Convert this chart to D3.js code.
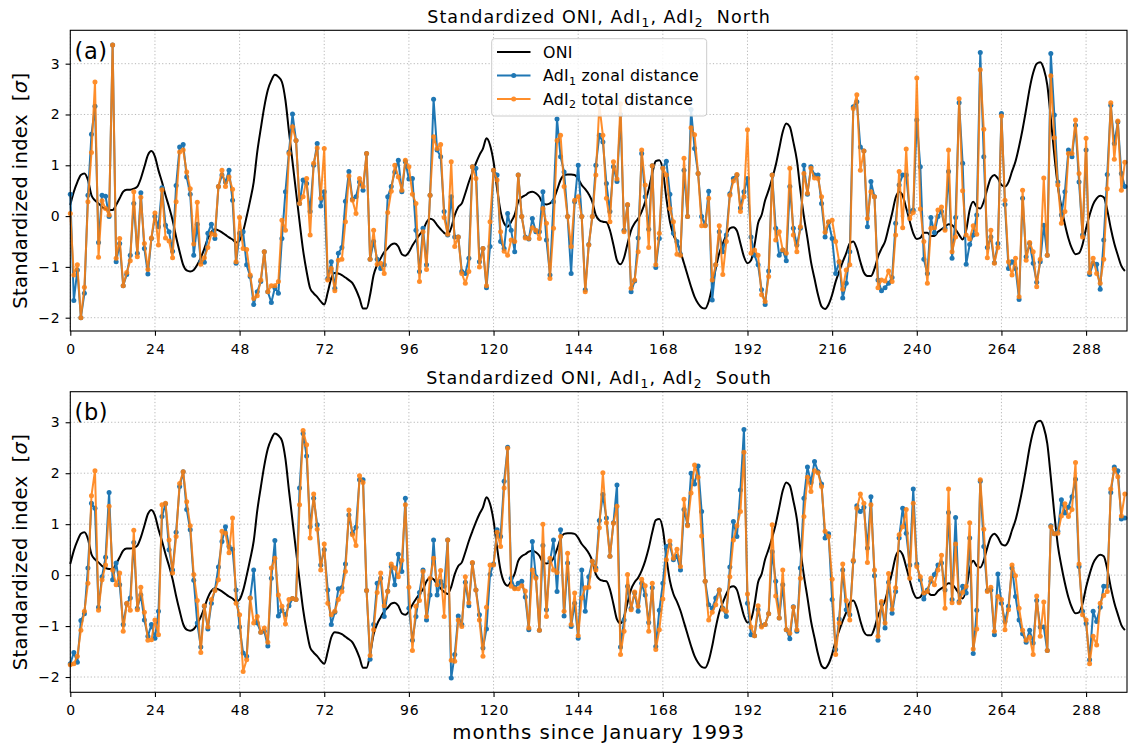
<!DOCTYPE html>
<html>
<head>
<meta charset="utf-8">
<script src="https://cdn.jsdelivr.net/npm/d3@7"></script>
<style>
  body { margin: 0; background: #fff; }
  svg { display: block; font-family: "DejaVu Sans", sans-serif; }
</style>
</head>
<body>
<svg id="chart" width="1129" height="745"></svg>
<script>
// standardized ONI, one value per month since Jan 1993
const oni = [
  0.22,0.48,0.67,0.81,0.84,0.71,0.41,0.31,0.25,0.18,
  0.14,0.12,0.12,0.22,0.35,0.48,0.52,0.52,0.54,0.58,
  0.74,0.97,1.20,1.28,1.17,0.90,0.67,0.41,0.18,-0.08,
  -0.41,-0.70,-0.96,-1.07,-1.09,-1.06,-0.96,-0.82,-0.64,-0.44,
  -0.31,-0.26,-0.28,-0.32,-0.37,-0.42,-0.46,-0.52,-0.48,-0.30,
  -0.01,0.31,0.67,1.26,1.72,2.15,2.48,2.67,2.78,2.74,
  2.64,2.28,1.66,1.07,0.48,-0.11,-0.67,-1.09,-1.42,-1.52,
  -1.59,-1.68,-1.74,-1.50,-1.22,-1.12,-1.13,-1.16,-1.21,-1.26,
  -1.32,-1.45,-1.62,-1.82,-1.82,-1.55,-1.16,-0.96,-0.83,-0.71,
  -0.64,-0.56,-0.54,-0.60,-0.75,-0.78,-0.71,-0.58,-0.47,-0.37,
  -0.28,-0.12,-0.05,-0.08,-0.18,-0.26,-0.33,-0.37,-0.23,0.02,
  0.18,0.25,0.45,0.67,0.86,1.04,1.20,1.33,1.53,1.40,
  1.07,0.54,0.09,-0.14,-0.21,-0.11,0.03,0.28,0.37,0.41,
  0.46,0.48,0.45,0.38,0.25,0.23,0.25,0.33,0.51,0.71,
  0.81,0.82,0.82,0.81,0.73,0.61,0.53,0.43,0.28,0.02,
  -0.08,-0.11,-0.12,-0.28,-0.57,-0.87,-0.95,-0.82,-0.54,-0.28,
  -0.14,-0.05,0.09,0.28,0.53,0.84,1.08,1.10,0.90,0.35,
  -0.11,-0.37,-0.52,-0.70,-0.93,-1.16,-1.39,-1.59,-1.72,-1.80,
  -1.82,-1.68,-1.39,-1.03,-0.73,-0.54,-0.37,-0.24,-0.22,-0.29,
  -0.54,-0.80,-0.93,-0.87,-0.57,-0.14,0.02,0.31,0.51,0.74,
  1.00,1.33,1.66,1.82,1.76,1.46,1.10,0.51,-0.01,-0.44,
  -0.90,-1.23,-1.55,-1.78,-1.83,-1.74,-1.55,-1.29,-1.09,-0.90,
  -0.73,-0.54,-0.50,-0.64,-0.90,-1.11,-1.18,-1.18,-1.04,-0.80,
  -0.64,-0.50,-0.23,0.05,0.36,0.48,0.40,0.16,-0.10,-0.34,
  -0.45,-0.43,-0.33,-0.33,-0.39,-0.39,-0.31,-0.26,-0.21,-0.16,
  -0.18,-0.26,-0.37,-0.46,-0.28,0.12,0.28,0.18,0.15,0.29,
  0.54,0.75,0.81,0.74,0.61,0.58,0.67,0.88,1.08,1.37,
  1.71,2.10,2.51,2.82,3.00,3.03,2.90,2.58,1.92,1.20,
  0.58,0.18,-0.16,-0.44,-0.64,-0.75,-0.73,-0.56,-0.24,0.02,
  0.23,0.35,0.40,0.37,0.12,-0.24,-0.54,-0.77,-0.98,-1.08
];

// North, AdI1 zonal distance
const adi1North = [
  0.43,-1.66,-1.06,-2.0,-1.52,0.41,1.61,2.16,-0.52,0.41,
  0.39,-0.01,3.37,-0.90,-0.54,-1.37,-1.15,-0.77,0.25,-0.73,
  0.46,-0.64,-1.14,-0.44,-0.01,-0.21,0.56,-0.18,-0.31,-0.69,
  0.60,1.36,1.41,0.77,0.43,-0.77,-0.16,-0.90,-0.91,-0.34,
  -0.16,-0.44,0.58,0.81,0.67,0.90,0.31,-0.93,-0.34,-0.31,
  -0.96,-1.19,-1.74,-1.49,-1.29,-0.70,-1.49,-1.70,-1.41,-1.52,
  -0.44,0.48,1.26,2.01,1.49,0.25,0.71,0.64,0.09,1.0,
  1.43,0.20,0.48,-1.23,-0.90,-1.42,-0.73,-0.62,0.29,0.88,
  0.33,0.38,0.67,0.51,1.23,-0.85,-0.50,-0.85,-1.03,-0.96,
  0.38,0.58,0.87,1.10,0.48,1.07,0.73,0.74,-0.28,-1.09,
  -0.24,-0.96,0.41,2.30,1.30,1.17,0.09,-0.37,0.38,-0.41,
  -0.41,-1.09,-1.13,-0.83,0.97,0.94,-0.90,-0.64,-1.41,-0.60,
  0.90,0.81,-0.50,-0.64,0.05,-0.28,-0.70,0.81,-0.01,-0.41,
  -0.45,-0.05,-0.31,-0.31,0.48,-0.47,-1.16,0.28,1.91,1.17,
  0.87,-0.01,-1.13,0.28,1.0,-0.01,-1.45,-0.56,-0.01,1.0,
  1.59,1.46,0.64,0.09,0.97,0.68,2.0,-0.28,0.22,-1.49,
  -1.28,-0.43,1.23,0.38,-0.26,0.99,-1.01,-0.44,0.95,1.08,
  0.43,-0.34,-0.50,-0.75,0.90,-0.01,2.10,1.33,0.84,-0.01,
  -0.18,0.49,-1.65,-0.96,-0.31,-0.70,-0.37,0.44,0.74,0.81,
  0.16,0.48,0.74,-0.41,-0.77,-0.96,-1.45,-1.74,-1.08,0.81,
  -0.24,-0.77,-0.67,-0.88,0.58,-0.24,-0.57,-0.24,1.0,0.43,
  0.97,0.81,0.81,0.25,-0.41,-0.12,-0.44,-1.13,-0.90,-1.61,
  -1.32,-0.70,2.15,2.25,1.36,1.28,-0.21,0.68,0.38,-1.26,
  -1.47,-1.41,-1.32,-1.21,-0.14,0.61,0.81,0.81,0.09,0.12,
  1.89,0.97,-0.85,-1.13,-0.03,-0.33,-0.01,0.09,-0.24,0.88,
  -0.83,-0.03,2.23,1.04,-0.95,-0.56,-0.37,0.02,3.22,1.17,
  -0.62,-0.41,-0.92,-0.54,2.02,0.23,-1.03,-0.90,-1.03,-1.64,
  0.35,-0.80,-0.54,-0.93,-1.30,-0.90,-0.18,-0.77,3.20,1.99,
  0.67,0.02,0.48,1.30,1.17,1.79,0.67,-0.37,1.30,-1.15,
  -0.93,-0.95,-1.44,-0.47,0.82,2.18,1.43,1.85,0.84,0.58
];

// North, AdI2 total distance
const adi2North = [
  0.05,-1.16,-0.96,-2.0,-1.40,0.28,1.25,2.64,-0.81,0.30,
  0.15,0.02,3.37,-0.83,-0.44,-1.37,-1.11,-0.88,0.48,-0.80,
  0.37,-0.54,-1.05,-0.43,0.06,-0.57,0.52,-0.43,-0.49,-0.82,
  0.28,1.26,1.30,0.87,0.54,-0.55,0.27,-0.95,-0.82,-0.62,
  -0.35,-0.37,0.58,0.90,0.58,0.77,0.53,-0.90,-0.03,-0.64,
  -0.66,-1.16,-1.62,-1.57,-1.26,-0.70,-1.49,-1.37,-1.37,-1.29,
  -0.08,-0.28,1.23,1.76,1.49,0.25,0.38,0.74,-0.37,1.04,
  1.34,0.35,1.33,-1.26,-1.03,-1.47,-0.87,-0.85,-0.11,0.79,
  0.31,0.05,0.74,0.58,1.23,-0.85,-0.28,-0.95,-0.93,-1.13,
  0.07,0.49,1.0,0.77,0.51,1.10,0.97,0.43,0.25,-1.29,
  -0.31,-1.05,0.41,1.56,1.33,1.41,-0.03,-0.36,1.07,-0.60,
  -0.41,-1.13,-1.32,-1.09,0.97,0.74,-1.0,-0.64,-1.37,-0.11,
  0.90,0.71,-0.31,-0.69,-0.77,-0.47,-0.50,0.81,-0.01,-0.43,
  -0.44,-0.23,-0.28,-0.44,0.15,-0.14,-1.23,-0.24,1.49,1.59,
  0.58,-0.01,-0.60,0.31,0.38,-0.01,-1.49,-0.57,-0.01,0.81,
  2.18,1.59,0.35,-0.11,1.07,0.73,2.21,-0.31,0.23,-1.42,
  -1.26,-0.70,1.30,0.61,-0.62,0.99,-0.96,-0.34,0.94,0.81,
  0.15,-0.11,-0.75,-0.77,1.14,-0.01,1.74,1.60,0.84,-0.19,
  -0.19,0.35,-1.26,-0.96,-0.19,-1.15,-0.50,0.41,0.69,0.82,
  0.09,0.38,1.70,-0.73,-0.67,-0.77,-1.55,-1.68,-1.19,0.81,
  -0.47,-0.31,-0.67,-0.73,0.94,-0.37,-0.70,-0.21,0.84,0.45,
  0.94,0.75,0.74,0.38,-0.32,-0.11,-0.08,-0.50,-0.90,-1.44,
  -1.06,-0.96,2.12,2.39,0.90,1.28,-0.05,0.48,0.38,-1.41,
  -1.26,-1.28,-1.08,-1.29,-0.37,0.88,-0.23,1.32,-0.05,0.07,
  2.72,0.14,-0.50,-1.32,-0.24,-0.23,0.12,0.18,-0.28,1.30,
  -0.70,-0.41,2.31,0.50,-0.37,-0.45,-0.19,-0.36,2.88,1.71,
  -0.82,-0.28,-0.93,-0.62,1.97,0.31,-0.90,-1.16,-0.83,-1.59,
  0.51,-0.87,-0.52,-0.70,-1.39,-0.85,0.75,-0.77,2.76,1.54,
  0.61,-0.14,0.09,1.23,1.23,1.89,0.84,-0.41,1.53,-1.11,
  -0.83,-1.13,-1.32,-0.85,0.54,2.23,1.12,1.87,0.51,1.06
];

// South, AdI1 zonal distance
const adi1South = [
  -1.74,-1.52,-1.71,-0.89,-0.76,0.14,1.41,1.31,-0.63,-0.03,
  0.35,1.62,-0.09,0.24,-0.19,-0.97,-0.56,-0.45,0.64,-0.65,
  -0.39,-0.88,-1.20,-0.97,-1.24,-0.71,1.15,1.40,0.50,0.10,
  0.84,1.74,2.03,1.29,0.89,-0.10,-0.94,-1.41,-0.61,-1.06,
  -0.55,-0.29,0.16,0.66,0.95,0.56,0.51,-0.29,-1.02,-1.53,
  -1.59,-0.45,0.10,-0.94,-1.12,-1.10,-1.39,-0.06,0.68,-0.80,
  -0.69,-0.78,-0.60,-0.46,-0.48,1.71,2.78,2.34,0.95,1.51,
  0.99,0.20,0.50,-0.29,-0.97,-0.73,-0.27,-0.25,0.22,1.18,
  0.82,0.94,1.87,1.87,-0.30,-1.65,-0.97,-0.16,-0.06,-0.81,
  -0.31,0.17,-0.19,0.41,0.07,1.51,-0.65,-1.28,-0.81,-0.34,
  0.10,-0.88,-0.39,0.69,-0.39,-0.12,-0.22,0.69,-2.02,-1.56,
  -0.80,-0.97,-0.14,-0.60,0.24,-0.29,-0.78,-1.43,-1.06,0.01,
  0.22,0.89,0.76,1.84,2.51,-0.06,-0.25,-0.16,-0.12,-0.43,
  -1.07,0.66,-0.03,-1.08,0.58,-0.68,0.27,0.69,-0.32,0.89,
  -0.80,0.24,-1.01,-0.55,-1.24,0.10,-0.71,-0.03,0.27,0.14,
  1.07,1.58,1.12,0.37,1.03,1.77,-1.41,-0.88,-0.22,-0.65,
  -0.35,-0.71,-0.16,-0.39,-0.93,-0.25,-1.40,-0.69,-0.16,0.56,
  0.59,0.30,0.37,0.10,1.29,0.99,2.0,1.79,2.14,1.25,
  -0.12,-0.58,-0.65,-0.45,-0.29,-0.65,-0.81,0.16,1.05,0.76,
  1.67,2.86,-0.55,-1.17,-1.19,-0.68,-0.99,-0.97,-0.76,0.46,
  -0.12,-0.84,-0.19,-1.07,-1.25,-0.62,-1.10,0.14,1.51,2.12,
  1.82,2.23,2.03,1.79,0.73,0.81,-0.48,-1.46,-0.86,0.10,
  -0.68,-0.78,0.27,1.36,1.25,1.33,0.53,1.54,-0.01,-1.28,
  -0.55,-1.04,-0.14,-0.75,-0.32,0.73,1.31,0.82,0.20,1.69,
  0.22,-0.09,-0.47,-0.29,-0.12,0.01,0.20,0.24,-0.29,1.23,
  -0.48,1.13,-0.52,-0.22,-0.35,0.73,-1.54,-0.69,1.84,0.56,
  -0.30,-0.29,-1.17,0.02,-0.55,-0.91,-0.61,0.14,-0.42,-0.88,
  -1.15,-1.32,-1.08,-1.33,-0.50,-1.02,-1.02,-1.48,0.97,0.81,
  0.86,1.48,1.22,1.33,1.54,1.88,0.17,-0.71,-0.95,-1.66,
  -0.71,-0.91,-0.63,-0.22,-0.22,1.62,2.12,2.05,1.10,1.12
];

// South, AdI2 total distance
const adi2South = [
  -1.76,-1.74,-1.59,-1.08,-0.71,-0.16,1.56,2.05,-0.69,-0.09,
  0.20,1.35,0.10,-0.19,0.04,-1.10,-0.55,-0.69,0.88,-0.68,
  -0.24,-0.73,-1.28,-1.27,-0.88,-1.17,1.38,1.41,0.69,0.04,
  0.76,1.80,2.03,1.44,0.97,0.01,-0.50,-1.52,-0.60,-1.02,
  -0.48,-0.30,-0.09,0.86,0.82,0.44,1.12,-0.55,-0.78,-1.89,
  -1.66,-0.45,-0.94,-0.81,-1.12,-1.04,-1.32,0.14,0.33,-0.39,
  -0.61,-0.96,-0.48,-0.46,-0.48,1.38,2.84,2.56,0.73,1.59,
  0.90,0.10,0.61,-0.55,-0.78,-0.71,-0.48,-0.32,0.07,1.28,
  0.79,0.58,1.95,1.82,-0.30,-1.58,-1.07,-0.34,0.04,-0.60,
  -0.32,0.22,0.14,-0.03,0.29,1.38,-0.24,-1.48,-0.61,-0.50,
  0.07,-0.81,-0.06,0.33,-0.19,0.09,-0.81,0.69,-1.67,-1.69,
  -0.88,-1.01,-0.03,-0.54,0.25,-0.29,-0.88,-1.59,-0.63,0.20,
  0.20,0.84,0.56,1.71,2.49,-0.22,-0.27,-0.27,-0.21,-0.31,
  -1.04,0.10,-0.06,-1.08,1.0,-0.81,0.33,0.10,0.05,0.76,
  -0.71,0.43,-0.97,-0.35,-1.19,-0.45,-0.25,-0.24,0.27,0.10,
  0.93,2.01,1.03,0.37,1.02,1.35,-1.56,-1.10,0.01,-0.68,
  -0.33,-0.61,-0.08,-0.21,-1.10,-0.16,-1.46,-1.07,-0.47,0.30,
  0.67,0.33,0.51,0.17,1.49,0.97,1.61,2.16,1.92,0.77,
  -0.12,-0.88,-0.73,-0.58,-0.29,-0.67,-0.71,-0.03,0.69,0.97,
  1.25,2.41,-0.37,-1.02,-1.19,-0.60,-1.02,-0.97,-0.76,0.99,
  -0.41,-0.84,0.10,-1.07,-1.14,-0.63,-1.07,-0.06,1.15,1.92,
  1.64,2.05,2.01,1.74,0.86,0.76,-0.08,-1.56,-0.94,0.22,
  -0.50,-0.88,0.29,1.31,1.59,1.41,0.25,1.38,0.10,-1.20,
  -0.52,-0.94,0.03,-0.67,-0.25,0.79,0.95,1.29,-0.06,1.41,
  0.17,-0.03,-0.35,-0.32,-0.06,-0.19,0.10,0.39,-0.65,1.69,
  -0.54,0.61,-0.54,-0.34,-0.22,1.03,-1.45,-1.06,1.87,0.90,
  -0.32,-0.24,-1.10,-0.42,-0.48,-1.07,-0.68,0.20,-0.01,-0.65,
  -1.08,-1.28,-1.22,-1.56,-0.41,-1.20,-0.53,-1.48,0.95,0.81,
  0.82,1.16,1.40,1.15,1.29,2.21,0.22,-0.78,-0.88,-1.74,
  -1.20,-1.37,-0.55,-0.40,-0.32,1.69,2.08,1.93,1.16,1.59
];

const xTicks = [0, 24, 48, 72, 96, 120, 144, 168, 192, 216, 240, 264, 288];
const yTicks = [-2, -1, 0, 1, 2, 3];

const BLUE = '#1f77b4';
const ORANGE = '#ff7f0e';

const svg = d3.select('#chart');
svg.append('rect').attr('width', 1129).attr('height', 745).attr('fill', '#fff');

const left = 70.3, right = 1127;
const x = d3.scaleLinear().domain([0, 299.6]).range([left, right]);

// text with sub/italic pieces
function rich(textSel, parts, size) {
  let shift = 0;
  textSel.style('white-space', 'pre');
  parts.forEach(function (p) {
    const t = textSel.append('tspan').text(p.t);
    const target = p.sub ? size * 0.23 : 0;
    if (target !== shift) {
      t.attr('dy', target - shift);
      shift = target;
    }
    if (p.sub) t.attr('font-size', size * 0.7);
    if (p.it) t.attr('font-style', 'italic');
  });
}

function titleParts(region) {
  return [
    {t: 'Standardized ONI, AdI'}, {t: '1', sub: true},
    {t: ', AdI'}, {t: '2', sub: true}, {t: '  ' + region}
  ];
}

const panels = [
  {top: 30.3, bottom: 331, dom: [-2.262, 3.657], region: 'North', tag: '(a)',
    blue: adi1North, orange: adi2North},
  {top: 391.7, bottom: 692.3, dom: [-2.30, 3.60], region: 'South', tag: '(b)',
    blue: adi1South, orange: adi2South}
];

panels.forEach(function (p, k) {
  const y = d3.scaleLinear().domain(p.dom).range([p.bottom, p.top]);
  const g = svg.append('g');

  // grid
  g.append('g').selectAll('line').data(xTicks).join('line')
    .attr('x1', d => x(d)).attr('x2', d => x(d))
    .attr('y1', p.top).attr('y2', p.bottom)
    .attr('stroke', '#b0b0b0').attr('stroke-width', 0.9)
    .attr('stroke-dasharray', '1.2,2.2');
  g.append('g').selectAll('line').data(yTicks).join('line')
    .attr('x1', left).attr('x2', right)
    .attr('y1', d => y(d)).attr('y2', d => y(d))
    .attr('stroke', '#b0b0b0').attr('stroke-width', 0.9)
    .attr('stroke-dasharray', '1.2,2.2');

  // ONI
  const lineOni = d3.line().x((d, i) => x(i)).y(d => y(d)).curve(d3.curveMonotoneX);
  g.append('path').datum(oni).attr('d', lineOni)
    .attr('fill', 'none').attr('stroke', '#000').attr('stroke-width', 2);

  // AdI series
  const line = d3.line().x((d, i) => x(i)).y(d => y(d));
  [[p.blue, BLUE, 1], [p.orange, ORANGE, 0.88]].forEach(function (s) {
    const sg = g.append('g').attr('opacity', s[2]);
    sg.append('path').datum(s[0]).attr('d', line)
      .attr('fill', 'none').attr('stroke', s[1]).attr('stroke-width', 2)
      .attr('stroke-linejoin', 'round');
    sg.selectAll('circle').data(s[0]).join('circle')
      .attr('cx', (d, i) => x(i)).attr('cy', d => y(d))
      .attr('r', 2.5).attr('fill', s[1]);
  });

  // axes
  const ax = g.append('g').attr('transform', 'translate(0,' + p.bottom + ')')
    .call(d3.axisBottom(x).tickValues(xTicks).tickSize(4.7).tickPadding(8).tickFormat(d3.format('d')));
  const ay = g.append('g').attr('transform', 'translate(' + left + ',0)')
    .call(d3.axisLeft(y).tickValues(yTicks).tickSize(4.7).tickPadding(5).tickFormat(d3.format('d')));
  [ax, ay].forEach(function (a) {
    a.select('.domain').remove();
    a.attr('font-family', '"DejaVu Sans", sans-serif').attr('font-size', 14);
    a.selectAll('.tick line').attr('stroke', '#000').attr('stroke-width', 1.1);
    a.selectAll('.tick text').attr('fill', '#000');
  });
  ax.selectAll('.tick text').style('letter-spacing', '0.9px').attr('dx', 0.45);
  ay.selectAll('.tick text').style('letter-spacing', '0.9px');

  // spines
  g.append('rect').attr('x', left).attr('y', p.top)
    .attr('width', right - left).attr('height', p.bottom - p.top)
    .attr('fill', 'none').attr('stroke', '#000').attr('stroke-width', 1.1);

  // title
  rich(g.append('text').attr('x', (left + right) / 2 + 0.5).attr('y', p.top - 7.5)
    .attr('text-anchor', 'middle').attr('font-size', 17.5)
    .style('letter-spacing', '1.05px'), titleParts(p.region), 17.5);

  // panel tag
  g.append('text').attr('x', 74.5).attr('y', p.top + 28.5)
    .attr('font-size', 22.5).style('letter-spacing', '0.6px').text(p.tag);

  // y label
  const cy = (p.top + p.bottom) / 2 + 10;
  rich(g.append('text').attr('transform', 'translate(26.5,' + cy + ') rotate(-90)')
    .attr('text-anchor', 'middle').attr('font-size', 19.5)
    .style('letter-spacing', '0.35px'),
    [{t: 'Standardized index  ['}, {t: 'σ', it: true}, {t: ']'}], 19.5);

  // legend only on top panel
  if (k === 0) {
    const lg = g.append('g');
    lg.append('rect').attr('x', 491.7).attr('y', 38.7).attr('width', 215).attr('height', 77.3)
      .attr('rx', 3).attr('fill', '#fff').attr('fill-opacity', 0.85)
      .attr('stroke', '#cccccc').attr('stroke-width', 1);
    const items = [
      {c: '#000', m: false, y: 52, parts: [{t: 'ONI'}], o: 1},
      {c: BLUE, m: true, y: 75.5, parts: [{t: 'AdI'}, {t: '1', sub: true}, {t: ' zonal distance'}], o: 1},
      {c: ORANGE, m: true, y: 99, parts: [{t: 'AdI'}, {t: '2', sub: true}, {t: ' total distance'}], o: 0.88}
    ];
    items.forEach(function (it) {
      const row = lg.append('g').attr('opacity', it.o);
      row.append('line').attr('x1', 497).attr('x2', 530.5)
        .attr('y1', it.y).attr('y2', it.y)
        .attr('stroke', it.c).attr('stroke-width', 2);
      if (it.m) {
        row.append('circle').attr('cx', 513.7).attr('cy', it.y).attr('r', 2.5).attr('fill', it.c);
      }
      rich(lg.append('text').attr('x', 543).attr('y', it.y + 5.8).attr('font-size', 15.8)
        .style('letter-spacing', '0.25px'), it.parts, 15.8);
    });
  }
});

// x label
svg.append('text').attr('x', (left + right) / 2).attr('y', 739)
  .attr('text-anchor', 'middle').attr('font-size', 19.7)
  .style('letter-spacing', '0.95px')
  .text('months since January 1993');
</script>
</body>
</html>
